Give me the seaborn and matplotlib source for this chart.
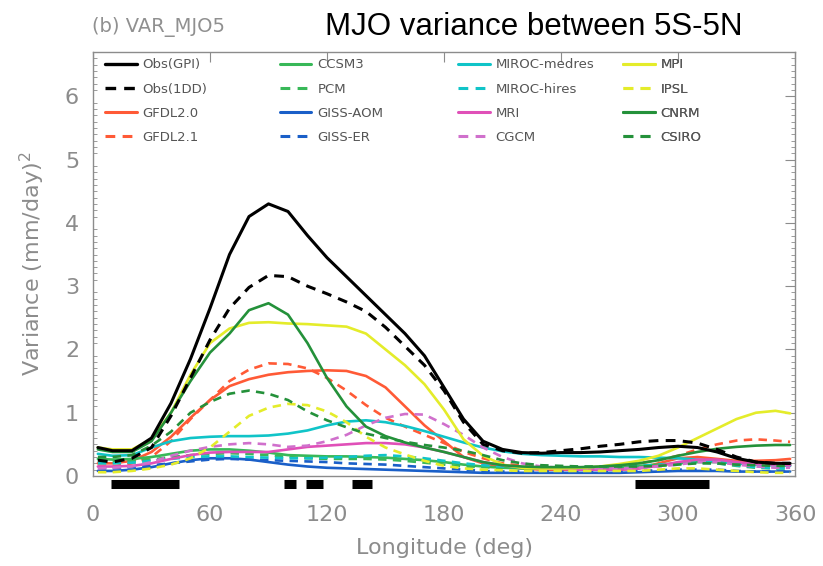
import numpy as np
import pandas as pd
import matplotlib
matplotlib.use("Agg")
import matplotlib.pyplot as plt
import seaborn as sns
from matplotlib.ticker import MultipleLocator
from matplotlib.lines import Line2D

lon = [2.5, 10, 20, 30, 40, 50, 60, 70, 80, 90, 100, 110, 120, 130, 140, 150, 160, 170, 180,
       190, 200, 210, 220, 230, 240, 250, 260, 270, 280, 290, 300, 310, 320, 330, 340, 350, 357.5]

obs_gpi = [0.45, 0.40, 0.40, 0.60, 1.15, 1.85, 2.65, 3.50, 4.10, 4.30, 4.18, 3.80, 3.45, 3.15, 2.85, 2.55, 2.25, 1.90, 1.40,
           0.90, 0.55, 0.42, 0.37, 0.36, 0.37, 0.37, 0.38, 0.40, 0.42, 0.45, 0.47, 0.45, 0.38, 0.28, 0.22, 0.20, 0.20]
obs_1dd = [0.25, 0.22, 0.28, 0.45, 0.95, 1.55, 2.15, 2.65, 2.98, 3.17, 3.15, 3.00, 2.88, 2.75, 2.60, 2.35, 2.05, 1.75, 1.35,
           0.85, 0.50, 0.40, 0.36, 0.37, 0.40, 0.43, 0.47, 0.50, 0.54, 0.56, 0.56, 0.52, 0.42, 0.30, 0.22, 0.20, 0.20]
gfdl20 = [0.20, 0.20, 0.24, 0.38, 0.62, 0.92, 1.20, 1.42, 1.53, 1.60, 1.64, 1.66, 1.67, 1.66, 1.58, 1.40, 1.10, 0.80, 0.55,
          0.30, 0.20, 0.15, 0.12, 0.10, 0.10, 0.10, 0.10, 0.10, 0.12, 0.20, 0.28, 0.30, 0.27, 0.24, 0.24, 0.25, 0.27]
gfdl21 = [0.15, 0.15, 0.20, 0.30, 0.55, 0.90, 1.20, 1.50, 1.68, 1.78, 1.77, 1.70, 1.55, 1.35, 1.12, 0.92, 0.78, 0.65, 0.52,
          0.38, 0.28, 0.20, 0.16, 0.14, 0.13, 0.13, 0.14, 0.16, 0.20, 0.25, 0.32, 0.42, 0.50, 0.56, 0.58, 0.56, 0.54]
ccsm3 = [0.27, 0.26, 0.27, 0.30, 0.35, 0.40, 0.42, 0.42, 0.40, 0.37, 0.33, 0.32, 0.31, 0.31, 0.30, 0.29, 0.27, 0.25, 0.22,
         0.18, 0.15, 0.13, 0.12, 0.12, 0.12, 0.13, 0.13, 0.14, 0.16, 0.18, 0.20, 0.22, 0.22, 0.20, 0.18, 0.17, 0.17]
pcm = [0.25, 0.24, 0.24, 0.26, 0.30, 0.33, 0.35, 0.36, 0.35, 0.33, 0.30, 0.28, 0.27, 0.27, 0.27, 0.26, 0.24, 0.21, 0.18,
       0.15, 0.14, 0.13, 0.13, 0.13, 0.13, 0.13, 0.13, 0.13, 0.14, 0.16, 0.20, 0.22, 0.20, 0.16, 0.13, 0.12, 0.12]
giss_aom = [0.08, 0.08, 0.10, 0.14, 0.20, 0.25, 0.28, 0.28, 0.26, 0.22, 0.18, 0.15, 0.13, 0.12, 0.11, 0.10, 0.09, 0.08, 0.07,
            0.06, 0.05, 0.05, 0.05, 0.05, 0.05, 0.05, 0.05, 0.05, 0.06, 0.07, 0.08, 0.08, 0.08, 0.07, 0.07, 0.07, 0.07]
giss_er = [0.12, 0.12, 0.14, 0.17, 0.20, 0.23, 0.26, 0.27, 0.26, 0.25, 0.24, 0.23, 0.22, 0.20, 0.19, 0.18, 0.16, 0.14, 0.12,
           0.10, 0.08, 0.07, 0.07, 0.07, 0.07, 0.07, 0.07, 0.07, 0.08, 0.09, 0.10, 0.10, 0.10, 0.08, 0.07, 0.07, 0.07]
miroc_med = [0.35, 0.32, 0.33, 0.45, 0.55, 0.60, 0.62, 0.63, 0.63, 0.64, 0.67, 0.72, 0.80, 0.86, 0.88, 0.85, 0.79, 0.71, 0.62,
             0.53, 0.45, 0.39, 0.35, 0.33, 0.32, 0.31, 0.31, 0.30, 0.30, 0.29, 0.28, 0.26, 0.23, 0.20, 0.18, 0.17, 0.16]
miroc_hi = [0.20, 0.20, 0.21, 0.24, 0.27, 0.30, 0.31, 0.31, 0.30, 0.29, 0.28, 0.28, 0.29, 0.30, 0.32, 0.33, 0.31, 0.28, 0.24,
            0.20, 0.17, 0.15, 0.14, 0.14, 0.14, 0.14, 0.14, 0.15, 0.16, 0.18, 0.20, 0.21, 0.20, 0.17, 0.14, 0.12, 0.12]
mri = [0.15, 0.15, 0.16, 0.20, 0.27, 0.33, 0.37, 0.38, 0.38, 0.38, 0.42, 0.46, 0.48, 0.50, 0.52, 0.52, 0.50, 0.45, 0.38,
       0.30, 0.22, 0.17, 0.14, 0.12, 0.11, 0.10, 0.10, 0.10, 0.12, 0.16, 0.22, 0.26, 0.26, 0.22, 0.19, 0.18, 0.17]
cgcm = [0.12, 0.13, 0.15, 0.22, 0.32, 0.40, 0.46, 0.50, 0.52, 0.50, 0.46, 0.48, 0.55, 0.65, 0.80, 0.92, 0.98, 0.97, 0.82,
        0.65, 0.45, 0.30, 0.20, 0.15, 0.13, 0.12, 0.12, 0.12, 0.13, 0.15, 0.18, 0.22, 0.22, 0.18, 0.15, 0.13, 0.13]
mpi = [0.45, 0.42, 0.42, 0.58, 1.00, 1.60, 2.10, 2.33, 2.42, 2.43, 2.41, 2.40, 2.38, 2.36, 2.25, 2.00, 1.75, 1.45, 1.05,
       0.58, 0.32, 0.18, 0.13, 0.12, 0.12, 0.13, 0.15, 0.19, 0.24, 0.32, 0.45, 0.60, 0.75, 0.90, 1.00, 1.03, 0.99]
ipsl = [0.06, 0.06, 0.08, 0.12, 0.18, 0.28, 0.45, 0.70, 0.95, 1.08, 1.14, 1.12, 1.02, 0.85, 0.62, 0.45, 0.34, 0.24, 0.16,
        0.12, 0.10, 0.09, 0.08, 0.08, 0.08, 0.08, 0.08, 0.08, 0.08, 0.10, 0.12, 0.12, 0.10, 0.08, 0.06, 0.05, 0.05]
cnrm = [0.42, 0.38, 0.38, 0.55, 1.00, 1.50, 1.95, 2.25, 2.62, 2.73, 2.55, 2.10, 1.55, 1.10, 0.78, 0.63, 0.53, 0.45, 0.38,
        0.30, 0.22, 0.17, 0.15, 0.14, 0.14, 0.14, 0.15, 0.17, 0.20, 0.25, 0.32, 0.38, 0.43, 0.46, 0.48, 0.49, 0.49]
csiro = [0.30, 0.30, 0.33, 0.48, 0.70, 1.00, 1.17, 1.30, 1.35, 1.30, 1.20, 1.02, 0.88, 0.77, 0.67, 0.60, 0.54, 0.49, 0.45,
         0.40, 0.33, 0.25, 0.20, 0.17, 0.16, 0.15, 0.15, 0.15, 0.15, 0.16, 0.18, 0.20, 0.20, 0.18, 0.17, 0.16, 0.16]

# significance bars below the axis (longitude ranges)
sig_start = [9, 98, 109, 133, 278]
sig_end = [44, 104, 118, 143, 316]

models = ["Obs(GPI)", "Obs(1DD)", "GFDL2.0", "GFDL2.1",
          "CCSM3", "PCM", "GISS-AOM", "GISS-ER",
          "MIROC-medres", "MIROC-hires", "MRI", "CGCM",
          "MPI", "IPSL", "CNRM", "CSIRO"]
series = [obs_gpi, obs_1dd, gfdl20, gfdl21, ccsm3, pcm, giss_aom, giss_er,
          miroc_med, miroc_hi, mri, cgcm, mpi, ipsl, cnrm, csiro]
colors = ["#000000", "#000000", "#ff5a36", "#ff5a36",
          "#38b858", "#38b858", "#1a5fc8", "#1a5fc8",
          "#10c4c8", "#10c4c8", "#e050b8", "#d070cc",
          "#e4ec2a", "#e4ec2a", "#24913a", "#24913a"]
dashed = [False, True] * 8

df = pd.DataFrame({
    "lon": np.tile(lon, len(models)),
    "var": np.concatenate(series),
    "model": np.repeat(models, len(lon)),
})

sns.set_style("white")
plt.rcParams["font.family"] = ["DejaVu Sans"]

fig = plt.figure(figsize=(8.23, 5.66), dpi=100)
ax = fig.add_axes([93 / 823, 1 - 476 / 566, 702 / 823, 424 / 566])

dash_pat = (0, (3.2, 2.4))
order = list(range(2, 16)) + [1, 0]
for i in order:
    m = models[i]
    lw = 2.2 if i < 2 else 1.9
    sns.lineplot(data=df[df["model"] == m], x="lon", y="var", ax=ax, color=colors[i],
                 linewidth=lw, linestyle=dash_pat if dashed[i] else "-", legend=False,
                 sort=False, estimator=None)

ax.hlines([-0.12] * len(sig_start), sig_start, sig_end, colors="black", linewidth=6.5,
          clip_on=False)

ax.set_xlim(0, 360)
ax.set_ylim(0, 6.7)
ax.set_xticks([0, 60, 120, 180, 240, 300, 360])
ax.set_yticks([0, 1, 2, 3, 4, 5, 6])
ax.yaxis.set_minor_locator(MultipleLocator(0.1))
gray = "#8c8c8c"
ax.tick_params(axis="both", which="major", direction="in", length=7, width=0.8,
               colors=gray, labelsize=16, top=True, right=True, labelcolor=gray)
ax.tick_params(axis="x", pad=21)
ax.tick_params(axis="y", pad=10)
ax.tick_params(axis="y", which="minor", direction="in", length=3, width=0.6,
               colors=gray, left=True, right=True)
for s in ax.spines.values():
    s.set_color(gray)
    s.set_linewidth(1.0)

ax.set_xlabel("Longitude (deg)", fontsize=16, color=gray, labelpad=9)
ax.set_ylabel("Variance (mm/day)$^2$", fontsize=16, color=gray, labelpad=13)

fig.text(92 / 823, 1 - 27 / 566, "(b) VAR_MJO5", fontsize=14, color="#909090",
         va="center", ha="left")
fig.text(325 / 823, 1 - 27 / 566, "MJO variance between 5S-5N", fontsize=22.5,
         color="black", va="center", ha="left", family="Liberation Sans")

col_x = [0.017, 0.266, 0.52, 0.755]
for c in range(4):
    handles = []
    labels = []
    for r in range(4):
        i = c * 4 + r
        handles.append(Line2D([], [], color=colors[i], linewidth=2.4 if i < 2 else 2.2,
                              linestyle=dash_pat if dashed[i] else "-"))
        labels.append(models[i])
    leg = ax.legend(handles, labels, loc="upper left", bbox_to_anchor=(col_x[c], 0.985),
                    frameon=False, fontsize=9.5, handlelength=2.4, handletextpad=0.45,
                    labelspacing=0.85, borderpad=0, borderaxespad=0, labelcolor="#555555")
    ax.add_artist(leg)

fig.savefig("out.png", dpi=100)
